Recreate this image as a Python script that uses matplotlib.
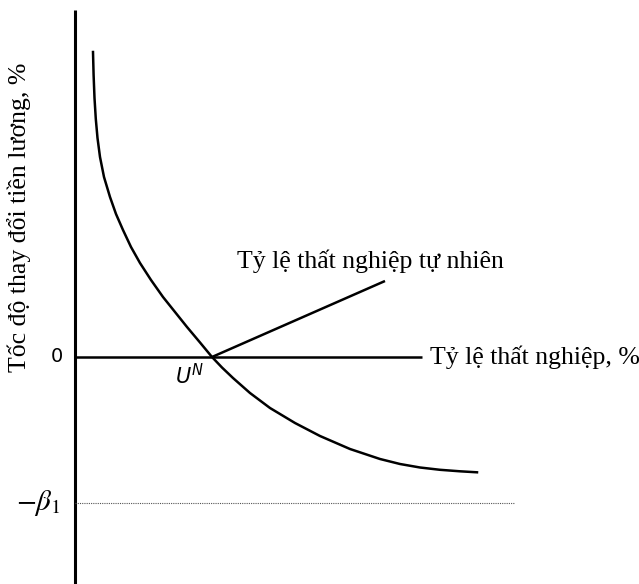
import matplotlib.pyplot as plt

# Phillips curve (x: unemployment, y: wage change), rough units
curve_x = [0.45, 0.465, 0.4875, 0.52, 0.5625, 0.625, 0.725, 0.875, 1.025, 1.2, 1.4,
           1.625, 1.9, 2.2, 2.5, 2.8, 3.125, 3.425, 3.675, 3.95, 4.375, 4.875,
           5.5, 6.125, 6.875, 7.625, 8.125, 8.625, 9.125, 9.625, 10.05]
curve_y = [7.625, 7.05, 6.475, 5.95, 5.475, 5.0, 4.5, 4.0, 3.575, 3.175, 2.75,
           2.35, 1.925, 1.5, 1.125, 0.75, 0.363, 0.0, -0.263, -0.525, -0.9, -1.275,
           -1.65, -1.975, -2.3, -2.55, -2.675, -2.7625, -2.82, -2.8575, -2.8825]

u_natural = 3.425
natural_x = [u_natural, 7.75]
natural_y = [0.0, 1.9]

beta1 = -3.65
axis_x_end = 8.675
axis_y = [-5.675, 8.675]
dotted_x_end = 11.0

fig = plt.figure(figsize=(6.39, 5.84), dpi=100)
ax = fig.add_axes([0, 0, 1, 1])
ax.set_xlim(-75 / 40, 564 / 40)
ax.set_ylim(-227 / 40, 357 / 40)
ax.axis('off')

serif = 'Liberation Serif'

# axes
ax.plot([0, 0], axis_y, color='black', lw=2.2, solid_capstyle='butt')
ax.plot([0, axis_x_end], [0, 0], color='black', lw=1.8, solid_capstyle='butt')
ax.plot([0, dotted_x_end], [beta1, beta1], color='#555555', lw=0.8, ls=(0, (1, 1)))

# curves
ax.plot(curve_x, curve_y, color='black', lw=1.8, solid_joinstyle='round')
ax.plot(natural_x, natural_y, color='black', lw=1.8, solid_capstyle='butt')

# labels
ax.text(axis_x_end + 0.2, 0, 'Tỷ lệ thất nghiệp, %', family=serif, fontsize=18.5,
        va='center', ha='left')
ax.text(7.375, 2.4, 'Tỷ lệ thất nghiệp tự nhiên', family=serif, fontsize=18.5,
        va='center', ha='center')
ax.text(-0.3, 0, '0', fontsize=14, va='center', ha='right')
ax.text(-0.35, beta1, r'$-\beta_1$', fontsize=21, va='center', ha='right',
        math_fontfamily='stix')
ax.text(u_natural - 0.2, -0.15, r'$U^N$', fontsize=15, va='top', ha='right',
        math_fontfamily='dejavusans')
ax.text(-1.4, 3.5, 'Tốc độ thay đổi tiền lương, %', family=serif, fontsize=18.5,
        rotation=90, va='center', ha='center')

fig.savefig('out.png', dpi=100)
